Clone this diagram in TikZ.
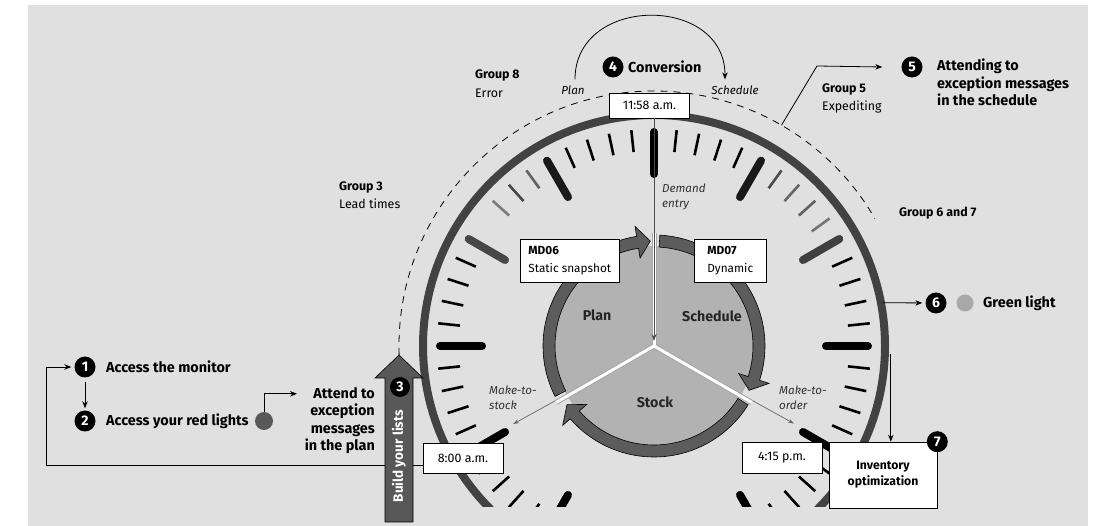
\documentclass[tikz,border=0pt]{standalone}
\usepackage{fontspec}
\setmainfont{Fira Sans}
\usetikzlibrary{calc,arrows.meta}
\definecolor{bggray}{RGB}{224,224,224}
\definecolor{ringgray}{RGB}{66,66,66}
\definecolor{diskgray}{RGB}{178,178,178}
\definecolor{arcgray}{RGB}{92,92,92}
\definecolor{reddot}{RGB}{88,88,88}
\definecolor{greendot}{RGB}{168,168,168}

\begin{document}
\begin{tikzpicture}[x=1pt,y=1pt,
    >={Stealth[length=7pt,width=5.5pt]},
    flow/.style={->,line width=0.8pt},
    badge/.style={circle,fill=black,text=white,inner sep=0pt,minimum size=21pt,font=\bfseries\fontsize{14}{14}\selectfont},
    steptext/.style={inner sep=0pt,align=left,font=\bfseries\fontsize{14.4}{17.5}\selectfont},
    grouptext/.style={inner sep=0pt,align=left,font=\fontsize{12.4}{18.5}\selectfont},
    note/.style={inner sep=0pt,align=left,text=black!80,font=\itshape\fontsize{11.6}{14.5}\selectfont},
    timebox/.style={draw=black,fill=white,line width=0.6pt,minimum width=80pt,inner sep=0pt,font=\fontsize{12.4}{12}\selectfont},
    mdbox/.style={draw=black,fill=white,line width=0.6pt,anchor=north west,align=left,inner sep=0pt,minimum height=43pt,font=\fontsize{11.8}{18}\selectfont},
    sectorlabel/.style={inner sep=0pt,text=black!85,font=\bfseries\fontsize{14.2}{14}\selectfont},
    majortick/.style={line width=8pt,line cap=round},
    minortick/.style={line width=2.6pt},
    track/.style={line width=0.8pt,dash pattern=on 7pt off 6pt},
    cyclearrow/.style={fill=arcgray,draw=black,line width=0.6pt},
  ]
  % background
  \useasboundingbox (0,0) rectangle (1096,-526);
  \fill[bggray] (28,-5) rectangle (1088,-526);
  \coordinate (c) at (654,-346);

  % dashed track round the clock
  \draw[track] ($(c)+(182:255)$) arc[start angle=182,end angle=30,radius=255];

  % clock face, cut off at the bottom
  \begin{scope}[shift={(c)}]
    \clip (-300,-161) rectangle (300,300);
    \draw[ringgray,line width=8pt] (0,0) circle[radius=231];
    \foreach \m in {1,...,59}{
      \pgfmathtruncatemacro\k{mod(\m,5)*(\m<6 || \m>9)*(\m<51 || \m>54)}
      \ifnum\k>0 \draw[minortick] (90-6*\m:195) -- (90-6*\m:217); \fi
    }
    \foreach \m/\col in {6/black!70,7/black!60,8/black!62,9/black!55,52/black!52,53/black!72,54/black!62}
      \draw[minortick,\col] (90-6*\m:195) -- (90-6*\m:217);
    \foreach \m/\col in {0/black,5/black!90,10/black!75,15/black,20/black,25/black,30/black,35/black,40/black,45/black,50/black!72,55/black!90}
      \draw[majortick,\col] (90-6*\m:172) -- (90-6*\m:214);
  \end{scope}

  % plan / schedule / stock disk
  \begin{scope}[shift={(c)}]
    \fill[diskgray] (0,0) circle[radius=100];
    \foreach \s/\e in {207/92,87/-25,-32/-146}{
      \pgfmathsetmacro\b{\e+7}
      \filldraw[cyclearrow] (\s:111) arc[start angle=\s,end angle=\b,radius=111]
        -- (\b:121) -- (\e:105) -- (\b:89) -- (\b:99)
        arc[start angle=\b,end angle=\s,radius=99] -- cycle;
    }
    \draw[->,black!60,line width=0.7pt,>={Stealth[length=6pt,width=4pt]}] (0,0) -- (209:161);
    \draw[->,black!60,line width=0.7pt,>={Stealth[length=6pt,width=4pt]}] (0,0) -- (-29:160);
    \foreach \a in {90,210,330}
      \draw[black!35,line width=5pt] (0,0) -- (\a:113);
    \foreach \a in {90,210,330}
      \draw[white,line width=3pt] (0,0) -- (\a:113);
    \node[sectorlabel] (plan) at (-57,31) {Plan};
    \node[sectorlabel] (sched) at (58,30) {Schedule};
    \node[sectorlabel] (stock) at (1,-56) {Stock};
  \end{scope}

  % times of day
  \node[timebox,minimum height=25pt] (t1158) at (649.5,-105.5) {11:58 a.m.};
  \node[timebox,minimum height=30pt] (t800) at (463,-458) {8:00 a.m.};
  \node[timebox,minimum height=31pt] (t415) at (782,-457.5) {4:15 p.m.};
  \draw[->,black!70,line width=0.8pt,shorten >=5pt,>={Stealth[length=7pt,width=5pt]}] (t1158.south -| c) -- (c);
  \node[note] (demand) at (662,-184) [anchor=north west] {Demand\\entry};
  \node[note] (mts) at (489,-386) [anchor=north west] {Make-to-\\stock};
  \node[note] (mto) at (779,-386) [anchor=north west] {Make-to-\\order};

  % transactions
  \node[mdbox,minimum width=99pt] (md06) at (520,-239) {\textbf{MD06}\\Static snapshot};
  \node[mdbox,minimum width=72pt] (md07) at (694,-239) {\textbf{MD07}\\Dynamic};

  % exception groups
  \node[grouptext,anchor=north west] (g8) at (475,-70) {\textbf{Group 8}\\Error};
  \node[grouptext,anchor=north west] (g3) at (339,-181) {\textbf{Group 3}\\Lead times};
  \node[grouptext,anchor=north west] (g5) at (822,-83) {\textbf{Group 5}\\Expediting};
  \node[grouptext,anchor=west] (g67) at (899,-213) {\textbf{Group 6 and 7}};

  % step 4
  \node[badge] (b4) at (613,-67) {4};
  \node[steptext,anchor=west] (s4) at (628,-67) {Conversion};
  \node[note,text=black] (lplan) at (573,-90) {Plan};
  \node[note,text=black] (lsched) at (735,-90) {Schedule};
  \draw[flow] ([xshift=2,yshift=6]lplan.north) to[out=90,in=90,looseness=1.45] ([xshift=-10,yshift=6]lsched.north);

  % step 5
  \node[badge] (b5) at (912,-67) {5};
  \node[steptext,anchor=north west] (s5) at (937,-59) {Attending to\\exception messages\\in the schedule};
  \coordinate (d5) at ($(c)+(60:255)$);
  \coordinate (k5) at (817,-66);
  \draw[flow] (d5) -- (k5) -- ([xshift=-19]b5.west);

  % step 6
  \coordinate (r6) at ($(c)+(10.7:233)$);
  \node[badge] (b6) at (936,-303) {6};
  \node[circle,fill=greendot,minimum size=17pt,inner sep=0pt] (gdot) at (965,-303) {};
  \node[steptext,anchor=west] (s6) at (983,-303) {Green light};
  \draw[flow,shorten >=3pt] (r6) -- (b6);

  % step 7
  \node[draw=black,fill=white,line width=0.6pt,minimum width=108pt,minimum height=66pt,align=center,
        font=\bfseries\fontsize{12.2}{16}\selectfont] (inv) at (883,-475) {Inventory\\optimization};
  \node[badge] (b7) at (inv.north east) {7};
  \coordinate (r7) at ($(c)+(-2:237)$);
  \draw[flow] (r7) -- (r7 |- inv.north);

  % steps 1 and 2
  \node[badge] (b1) at (85,-367) {1};
  \node[steptext,anchor=west] (s1) at (106,-367) {Access the monitor};
  \node[badge] (b2) at (85,-421) {2};
  \node[steptext,anchor=west] (s2) at (106,-421) {Access your red lights};
  \draw[flow,shorten <=4pt,shorten >=2pt] (b1) -- (b2);
  \node[circle,fill=reddot,minimum size=18pt,inner sep=0pt] (rdot) at (264,-421) {};
  \draw[flow] (rdot.north) |- ++(33,18);
  \node[steptext,align=right,anchor=north east] (pm) at (375,-387) {Attend to\\exception\\messages\\in the plan};
  \coordinate (loop) at (46,-465);
  \draw[flow,shorten >=3pt] ([yshift=-7]t800.west) -- (loop) |- (b1);

  % step 3
  \filldraw[fill=reddot,draw=black,line width=0.6pt] (385,-522) -- (385,-378) -- (375,-378) -- (399,-355)
    -- (423,-378) -- (413,-378) -- (413,-522) -- cycle;
  \node[rotate=90,text=white,font=\bfseries\fontsize{13.5}{13.5}\selectfont] (lists) at (399,-456) {Build your lists};
  \node[badge,minimum size=20pt] (b3) at (400,-387) {3};
\end{tikzpicture}
\end{document}
